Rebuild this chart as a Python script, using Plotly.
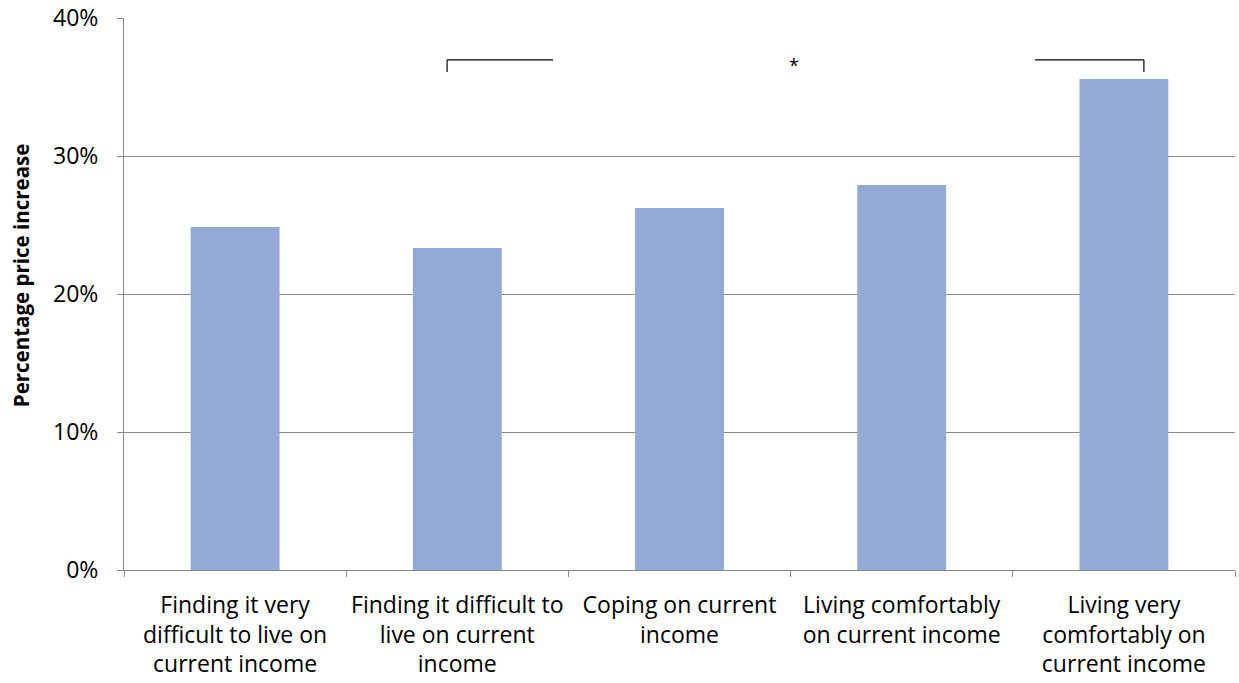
import plotly.graph_objects as go

categories = [
    "Finding it very<br>difficult to live on<br>current income",
    "Finding it difficult to<br>live on current<br>income",
    "Coping on current<br>income",
    "Living comfortably<br>on current income",
    "Living very<br>comfortably on<br>current income",
]
values = [0.2486, 0.2333, 0.2623, 0.279, 0.3558]
y_ticks = [0, 0.1, 0.2, 0.3, 0.4]
y_tick_labels = ["0%", "10%", "20%", "30%", "40%"]
y_title = "Percentage price increase"

FONT = "Open Sans"
fig = go.Figure()
fig.add_trace(go.Bar(x=categories, y=values, marker_color="#95a9d6",
                     marker_line_width=0, width=0.4))

line = dict(color="black", width=1.2)
# significance brackets (positions in category-index units)
fig.add_shape(type="line", x0=0.954, x1=1.431, y0=0.3696, y1=0.3696, line=line)
fig.add_shape(type="line", x0=0.954, x1=0.954, y0=0.3696, y1=0.3609, line=line)
fig.add_shape(type="line", x0=3.600, x1=4.090, y0=0.3696, y1=0.3696, line=line)
fig.add_shape(type="line", x0=4.090, x1=4.090, y0=0.3696, y1=0.3609, line=line)
fig.add_annotation(x=2.515, y=0.366, text="*", showarrow=False,
                   font=dict(family=FONT, size=18, color="black"))

# y-axis title as an annotation for precise placement
fig.add_annotation(xref="paper", yref="paper", x=0, y=0.534, xanchor="center", yanchor="middle",
                   xshift=-103, textangle=-90, showarrow=False,
                   text="<b>" + y_title + "</b>", font=dict(family=FONT, size=20.5, color="black"))

fig.update_layout(
    width=1239, height=683,
    margin=dict(l=124, r=4, t=18, b=113, autoexpand=False),
    plot_bgcolor="white", paper_bgcolor="white",
    showlegend=False,
    font=dict(family=FONT, size=23, color="black"),
)
fig.update_xaxes(
    type="category", categoryorder="array", categoryarray=categories,
    range=[-0.5, 4.5], showline=True, linecolor="#888888", linewidth=1,
    ticks="outside", tickson="boundaries", ticklen=6, tickcolor="#888888",
    showgrid=False, tickfont=dict(family=FONT, size=23), ticklabelstandoff=14,
    tickangle=0, automargin=False,
)
fig.update_yaxes(
    range=[0, 0.4], tickvals=y_ticks, ticktext=y_tick_labels,
    showline=True, linecolor="#888888", linewidth=1,
    ticks="outside", ticklen=6, tickcolor="#888888",
    showgrid=True, gridcolor="#888888", gridwidth=1, zeroline=False,
    tickfont=dict(family=FONT, size=23), ticklabelstandoff=14,
    ticklabeloverflow="allow", automargin=False,
)
fig.write_html("out.html", config={"displayModeBar": False},
               post_script="document.body.style.margin='0';document.body.style.overflow='hidden';")
